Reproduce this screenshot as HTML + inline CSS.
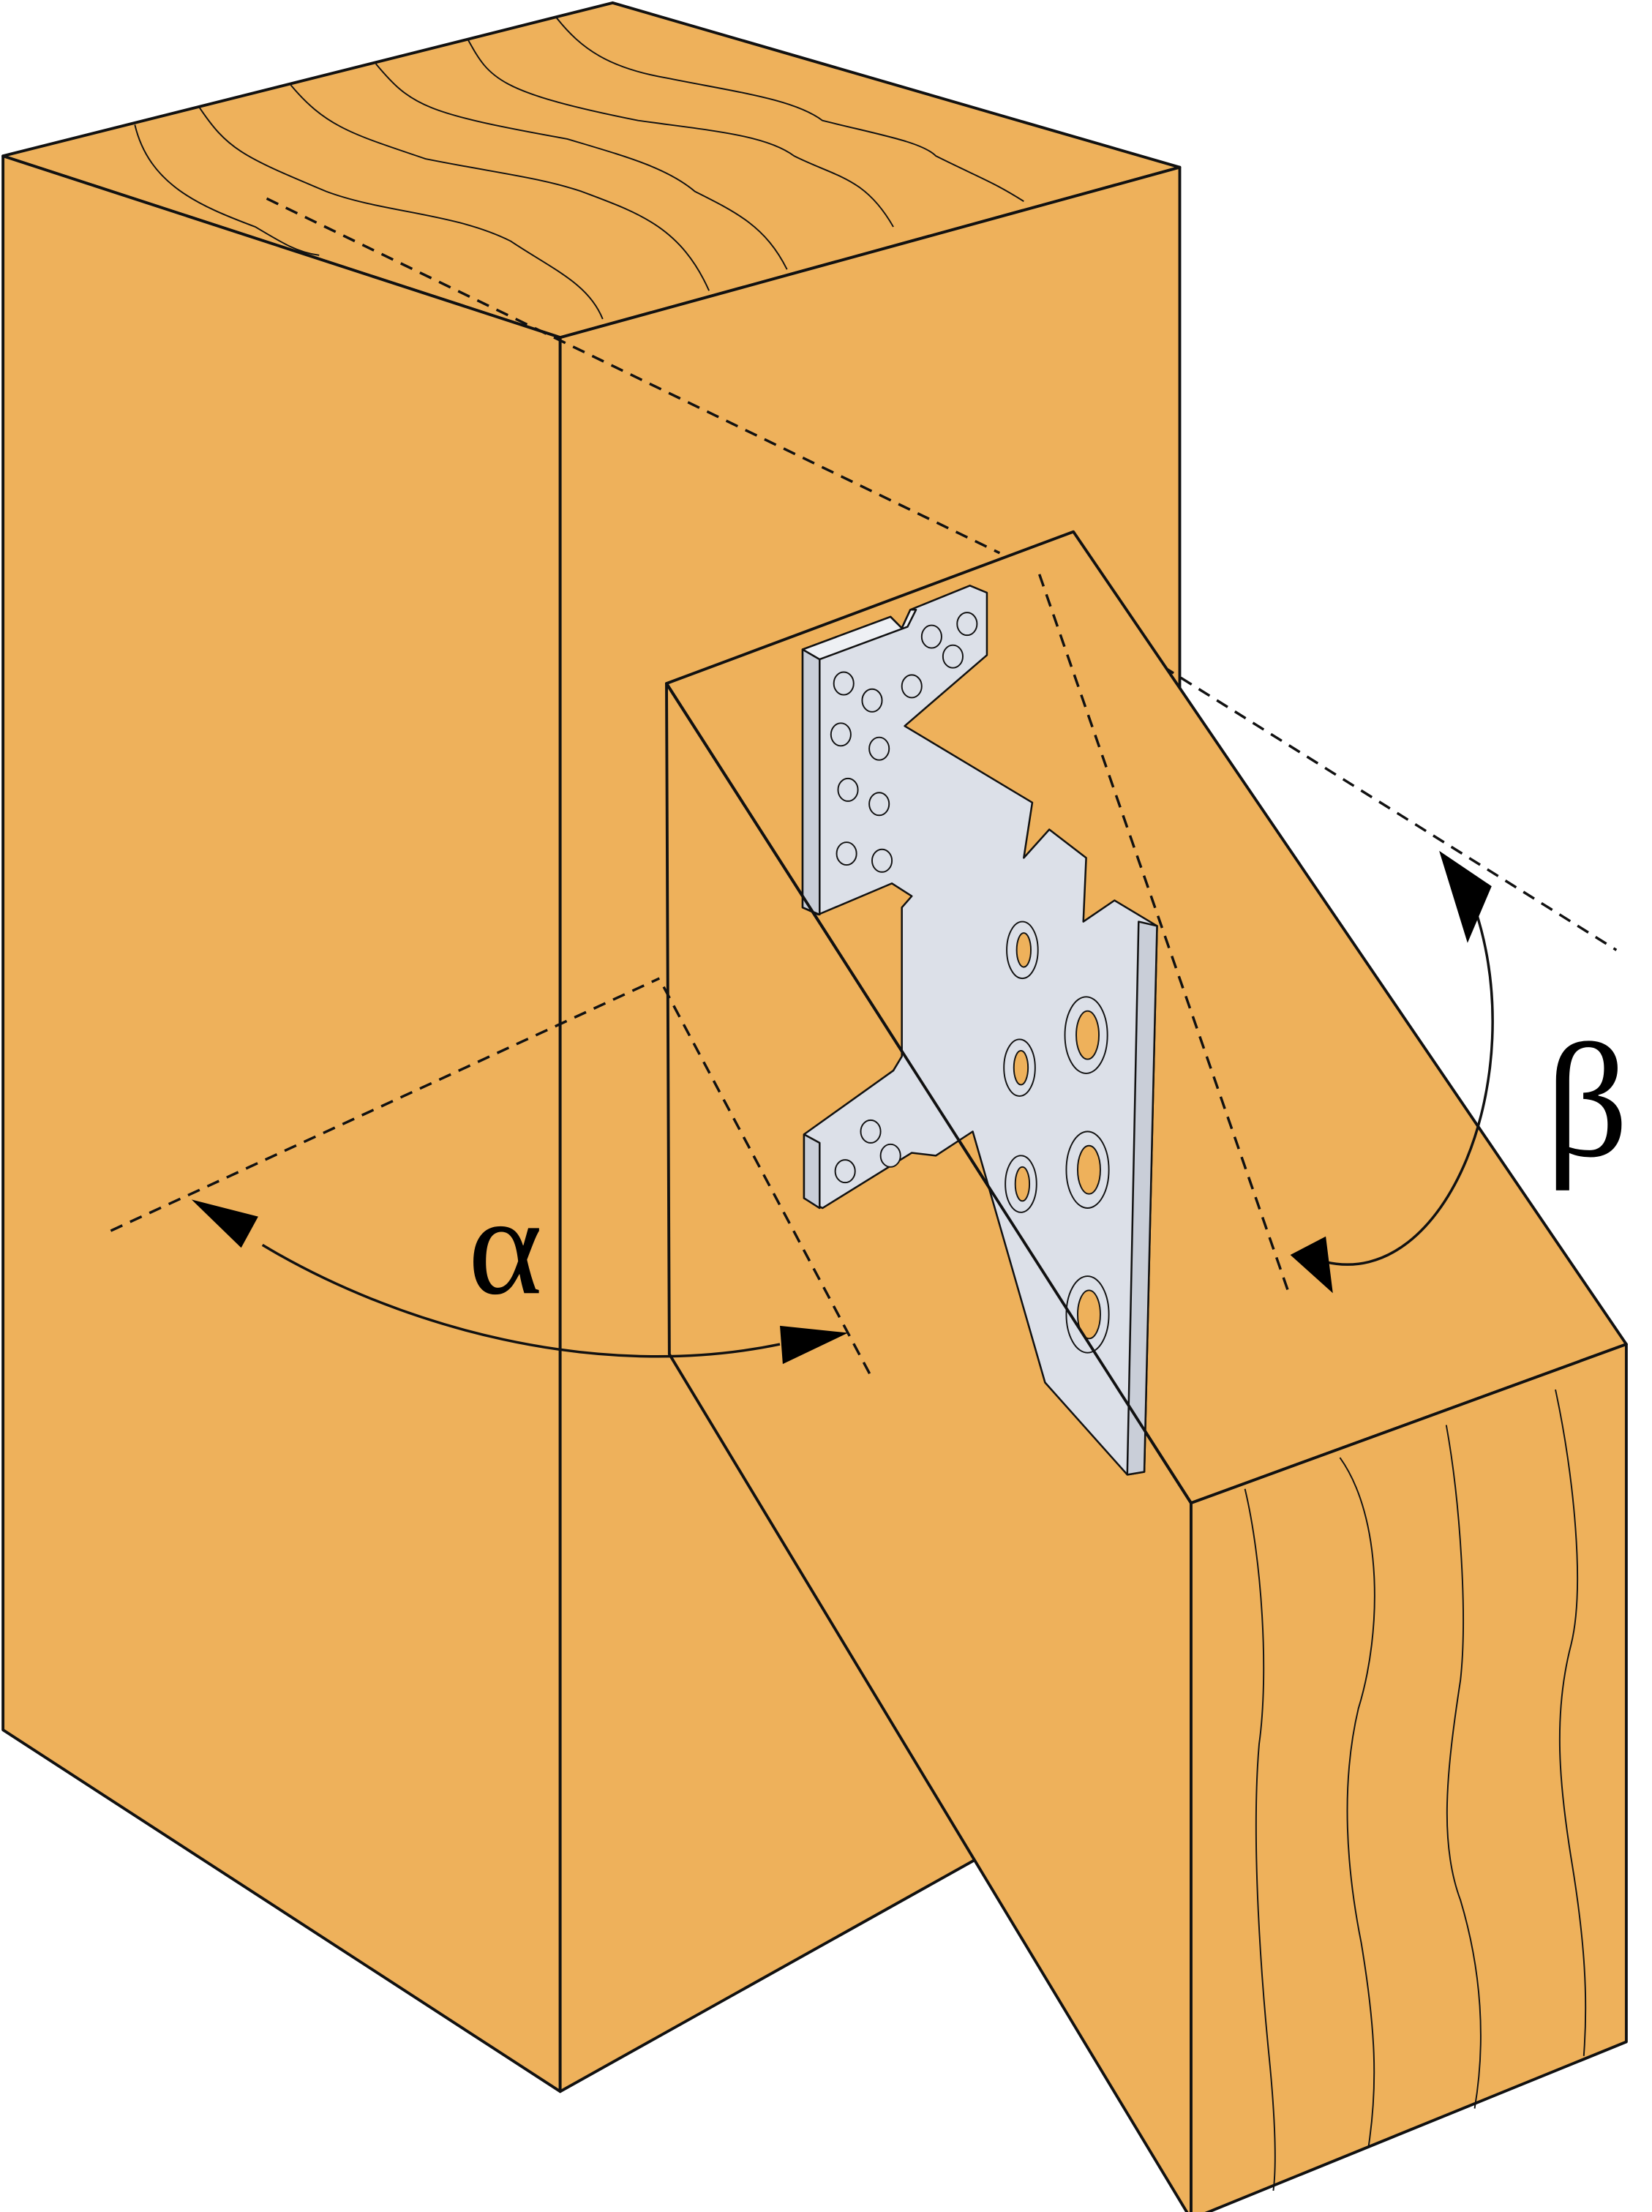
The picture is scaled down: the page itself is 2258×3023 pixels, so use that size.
<!DOCTYPE html>
<html><head><meta charset="utf-8"><style>
html,body{margin:0;padding:0;background:#fff;}
svg{display:block;}
</style></head><body>
<svg width="2258" height="3023" viewBox="0 0 1165 1560" xmlns="http://www.w3.org/2000/svg">
<g stroke="#111" stroke-width="2" stroke-linejoin="round" fill="#EEB15B">
<polygon points="2,110 432,2 832,118 395,238"/>
<polygon points="2,110 395,238 395,1475 2,1220"/>
<polygon points="395,238 832,118 832,1231 395,1475"/>
</g>
<g stroke="#111" stroke-width="1" fill="none">
<path d="M95,88 C105,130 140,145 180,160 C200,172 210,178 225,180"/>
<path d="M140,75 C160,105 170,110 230,135 C270,150 320,150 360,170 C390,190 415,200 425,225"/>
<path d="M205,60 C230,90 250,95 300,112 C350,122 380,125 410,135 C450,150 480,160 500,205"/>
<path d="M265,45 C290,75 300,80 400,98 C440,110 470,118 490,135 C520,150 540,160 555,190"/>
<path d="M330,28 C345,55 350,65 450,85 C500,92 540,95 560,110 C590,125 610,125 630,160"/>
<path d="M392,12 C410,35 430,48 470,55 C520,65 560,70 580,85 C620,95 650,100 660,110 C690,125 700,128 722,142"/>
</g>
<g stroke="#111" stroke-width="1.8" fill="none" stroke-dasharray="9,6">
<line x1="188" y1="140" x2="705" y2="390"/>
<line x1="820" y1="470" x2="1140" y2="670"/>
<line x1="78" y1="868" x2="465" y2="690"/>
</g>
<g stroke="#111" stroke-width="2" stroke-linejoin="round" fill="#EEB15B">
<polygon points="470,482 840,1060 840,1565 472,955"/>
<polygon points="470,482 757,375 1147,948 840,1060"/>
<polygon points="840,1060 1147,948 1147,1440 840,1565"/>
</g>
<g stroke="#111" stroke-width="1.8" fill="none" stroke-dasharray="9,6">
<line x1="733" y1="405" x2="910" y2="915"/>
<line x1="468" y1="696" x2="615" y2="972"/>
</g>
<g stroke="#111" stroke-width="1" fill="none">
<path d="M878,1050 C890,1100 895,1180 888,1230 C882,1300 890,1400 895,1450 C900,1500 900,1530 898,1545"/>
<path d="M945,1028 C975,1070 975,1150 958,1205 C945,1260 950,1320 960,1370 C970,1430 972,1470 965,1515"/>
<path d="M1020,1005 C1030,1060 1035,1140 1030,1185 C1020,1250 1015,1300 1030,1340 C1045,1390 1048,1440 1040,1487"/>
<path d="M1097,980 C1110,1040 1118,1120 1108,1160 C1095,1210 1100,1260 1108,1310 C1118,1370 1120,1410 1117,1450"/>
</g>
<g stroke="#111" stroke-width="1.3" stroke-linejoin="round" fill="#DCE0E8">
<polygon points="566,458 628,435 636,443 642,430 684,413 696,418 696,462 638,512 728,566 722,605 740,585 766,605 764,650 786,635 816,653 807,1038 795,1040 737,975 686,798 660,815 643,813 580,852 567,845 567,800 630,755 636,745 636,640 643,632 629,623 577,645 566,640"/>
<polygon points="566,458 578,465 578,645 566,640" fill="#C9CED8"/>
<polygon points="578,465 640,442 646,430 642,430 636,443 628,435 566,458" fill="#EEF0F4"/>
<polygon points="803,650 816,653 807,1038 795,1040" fill="#C9CED8"/>
<polygon points="567,800 578,806 578,852 567,845" fill="#C9CED8"/>
</g>
<g stroke="#111" stroke-width="1" fill="#DCE0E8">
<ellipse cx="595" cy="482" rx="7" ry="8"/><ellipse cx="615" cy="494" rx="7" ry="8"/><ellipse cx="643" cy="484" rx="7" ry="8"/>
<ellipse cx="657" cy="449" rx="7" ry="8"/><ellipse cx="682" cy="440" rx="7" ry="8"/><ellipse cx="672" cy="463" rx="7" ry="8"/>
<ellipse cx="593" cy="518" rx="7" ry="8"/><ellipse cx="620" cy="528" rx="7" ry="8"/><ellipse cx="598" cy="557" rx="7" ry="8"/>
<ellipse cx="620" cy="567" rx="7" ry="8"/><ellipse cx="597" cy="602" rx="7" ry="8"/><ellipse cx="622" cy="607" rx="7" ry="8"/>
<ellipse cx="596" cy="826" rx="7" ry="8"/><ellipse cx="614" cy="798" rx="7" ry="8"/><ellipse cx="628" cy="815" rx="7" ry="8"/>
</g>
<g stroke="#111" stroke-width="1" fill="none">
<ellipse cx="721" cy="670" rx="11" ry="20"/><ellipse cx="766" cy="730" rx="15" ry="27"/>
<ellipse cx="719" cy="753" rx="11" ry="20"/><ellipse cx="767" cy="825" rx="15" ry="27"/>
<ellipse cx="720" cy="835" rx="11" ry="20"/><ellipse cx="767" cy="927" rx="15" ry="27"/>
</g>
<g stroke="#111" stroke-width="1" fill="#EEB15B">
<ellipse cx="722" cy="670" rx="5" ry="12"/><ellipse cx="767" cy="730" rx="8" ry="17"/>
<ellipse cx="720" cy="753" rx="5" ry="12"/><ellipse cx="768" cy="825" rx="8" ry="17"/>
<ellipse cx="721" cy="835" rx="5" ry="12"/><ellipse cx="768" cy="927" rx="8" ry="17"/>
</g>
<line x1="470" y1="482" x2="840" y2="1060" stroke="#111" stroke-width="2"/>
<g stroke="#111" stroke-width="1.8" fill="none">
<path d="M185,878 C280,935 420,975 550,948"/>
<path d="M1040,640 C1080,760 1020,910 935,890"/>
</g>
<g fill="#000">
<polygon points="135,846 182,858 170,880"/>
<polygon points="598,940 550,935 552,962"/>
<polygon points="1015,600 1052,625 1035,665"/>
<polygon points="940,912 910,885 935,872"/>
</g>
<text x="330" y="912" font-family="Liberation Serif, serif" font-size="100" fill="#000">α</text>
<text x="1090" y="815" font-family="Liberation Serif, serif" font-size="115" fill="#000">β</text>
</svg>
</body></html>
